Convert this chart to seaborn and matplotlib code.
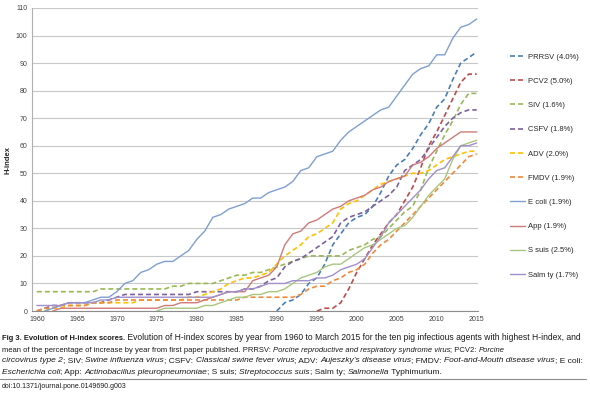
import numpy as np
import pandas as pd
import matplotlib
matplotlib.use('Agg')
import matplotlib.pyplot as plt
import seaborn as sns
from matplotlib.ticker import MultipleLocator
from matplotlib.transforms import IdentityTransform
from matplotlib.lines import Line2D

nan = np.nan
years = list(range(1960, 2016))

prrsv = [nan] * 30 + [0, 3, 4, 6, 10, 12, 17, 24, 28, 32, 34, 35, 38, 43, 49, 53, 55, 59, 64, 68,
                      74, 77, 84, 90, 92, 94]
pcv2 = [nan] * 35 + [0, 1, 1, 3, 8, 14, 19, 24, 28, 32, 35, 40, 45, 52, 60, 65, 71, 77, 83, 86, 86]
siv = [7] * 8 + [8] * 9 + [9, 9] + [10] * 4 + [11, 12, 13, 13, 14, 14, 15, 16, 17, 18, 19] + [20] * 5 + \
      [22, 23, 24, 26, 27, 30, 33, 36, 38, 44, 52, 58, 64, 69, 75, 79, 79]
csfv = [0, 1, 2, 2, 3, 3, 3, 3, 3, 4, 5] + [6] * 9 + [7] * 6 + [8, 8, 9, 11] + \
       [12, 16, 18, 19, 21, 23, 25, 27, 32, 34, 35, 36, 38, 40, 42, 45, 51, 53, 55, 59,
        63, 67, 70, 72, 73, 73]
adv = [0, 0, 1, 1, 2, 2, 2, 3, 3, 3, 3, 3, 3, 4, 4, 4, 4, 4, 4, 5,
       5, 6, 7, 8, 10, 11, 12, 12, 13, 14, 17, 20, 22, 24, 27, 28, 30, 32, 37, 39,
       40, 42, 44, 46, 47, 48, 49, 50, 50, 51, 53, 55, 56, 57, 58, 58]
fmdv = [0, 1, 1, 2, 2, 2, 2, 3, 3, 3] + [4] * 16 + [5] * 7 + \
       [6, 8, 9, 9, 11, 12, 14, 15, 17, 21, 24, 26, 29, 32, 35, 38, 41, 44, 47, 50, 53, 56, 57]
ecoli = [nan, 0, 1, 2, 3, 3, 3, 4, 5, 5, 7, 10, 11, 14, 15, 17, 18, 18, 20, 22,
         26, 29, 34, 35, 37, 38, 39, 41, 41, 43, 44, 45, 47, 51, 52, 56, 57, 58, 62, 65,
         67, 69, 71, 73, 74, 78, 82, 86, 88, 89, 93, 93, 99, 103, 104, 106]
app = [nan, nan, 0] + [1] * 13 + [2, 2, 3, 3, 3, 4, 5, 6, 7, 7, 7, 11, 12, 13,
       16, 24, 28, 29, 32, 33, 35, 37, 38, 40, 41, 42, 44, 45, 47, 48, 49, 53, 54, 56,
       59, 61, 63, 65, 65, 65]
ssuis = [nan] * 15 + [0, 1, 1, 1, 1, 1, 2, 2, 3, 4, 5, 5, 6, 6, 7,
         7, 8, 10, 12, 13, 14, 16, 17, 17, 19, 21, 23, 24, 26, 28, 30, 31, 34, 38, 42,
         45, 48, 55, 60, 61, 62]
salmty = [2] * 4 + [3] * 4 + [4, 4] + [5] * 13 + [6, 7, 7, 8, 8, 9, 10,
          10, 10, 11, 11, 11, 12, 12, 13, 15, 16, 17, 19, 23, 27, 32, 35, 38, 41, 44, 48,
          51, 52, 56, 60, 60, 61]

labels = ['PRRSV (4.0%)', 'PCV2 (5.0%)', 'SIV (1.6%)', 'CSFV (1.8%)', 'ADV (2.0%)',
          'FMDV (1.9%)', 'E coli (1.9%)', 'App (1.9%)', 'S suis (2.5%)', 'Salm ty (1.7%)']
values = [prrsv, pcv2, siv, csfv, adv, fmdv, ecoli, app, ssuis, salmty]
colors = ['#4A7EBB', '#BE4B48', '#98B954', '#7D60A0', '#FFC000',
          '#F0893C', '#7F9FD3', '#D07A78', '#A8C77C', '#9F90CB']
dashed = [True] * 6 + [False] * 4

sns.set_style('white')
plt.rcParams['font.family'] = ['Liberation Sans', 'DejaVu Sans']

fig = plt.figure(figsize=(5.9, 3.93), dpi=100)
ax = fig.add_axes([32 / 590, (393 - 311) / 393, 446 / 590, 303 / 393])

for lab, vals, col, d in zip(labels, values, colors, dashed):
    df = pd.DataFrame({'year': years, 'h': vals}).dropna()
    if d:
        sns.lineplot(data=df, x='year', y='h', color=col, lw=1.2,
                     linestyle=(0, (3, 1.8)), label=lab, ax=ax)
    else:
        sns.lineplot(data=df, x='year', y='h', color=col, lw=1.0, label=lab, ax=ax)

ax.set_xlim(1959.4, 2015.16)
ax.set_ylim(0, 110)
ax.xaxis.set_major_locator(MultipleLocator(5))
ax.xaxis.set_minor_locator(MultipleLocator(1))
ax.yaxis.set_major_locator(MultipleLocator(10))
ax.yaxis.grid(True, color='#C8C8C8', lw=0.8)
ax.set_axisbelow(True)
for s in ['top', 'right']:
    ax.spines[s].set_visible(False)
ax.spines['left'].set_color('#B0B0B0')
ax.spines['bottom'].set_color('#8C8C8C')
ax.spines['left'].set_linewidth(0.8)
ax.spines['bottom'].set_linewidth(0.8)
ax.tick_params(axis='x', which='both', direction='out', length=2.2, width=0.6,
               color='#8C8C8C', labelsize=5, labelcolor='#404040', pad=1.5)
ax.tick_params(axis='y', direction='out', length=2, width=0.6, color='#B0B0B0',
               labelsize=5, labelcolor='#404040', pad=1.5)
ax.set_xlabel('')
ax.set_ylabel('H-index', fontsize=5.5, fontweight='bold')
ax.yaxis.set_label_coords(-0.045, 0.5)

ax.legend(loc='center left', bbox_to_anchor=(510 / 590, 1 - 166 / 393),
          bbox_transform=fig.transFigure, frameon=False, fontsize=5.5,
          handlelength=2.0, handletextpad=0.3, labelspacing=2.21,
          borderpad=0, borderaxespad=0)

# caption drawn piece by piece so bold / italic parts can sit inline
caption = [
    [('Fig 3. Evolution of H-index scores.', 'b'),
     (' Evolution of H-index scores by year from 1960 to March 2015 for the ten pig infectious agents with highest H-index, and', 'n')],
    [('mean of the percentage of increase by year from first paper published. PRRSV: ', 'n'),
     ('Porcine reproductive and respiratory syndrome virus', 'i'), ('; PCV2: ', 'n'), ('Porcine', 'i')],
    [('circovirus type 2', 'i'), ('; SIV: ', 'n'), ('Swine influenza virus', 'i'), ('; CSFV: ', 'n'),
     ('Classical swine fever virus', 'i'), ('; ADV: ', 'n'), ('Aujeszky\u2019s disease virus', 'i'),
     ('; FMDV: ', 'n'), ('Foot-and-Mouth disease virus', 'i'), ('; E coli:', 'n')],
    [('Escherichia coli', 'i'), ('; App: ', 'n'), ('Actinobacillus pleuropneumoniae', 'i'),
     ('; S suis; ', 'n'), ('Streptococcus suis', 'i'), ('; Salm ty; ', 'n'),
     ('Salmonella', 'i'), (' Typhimurium.', 'n')],
]
baselines = [393 - 340.5, 393 - 351.5, 393 - 362.5, 393 - 373.5]
line_ends = [586, 506, 586, 446]   # right end of each caption line in the figure, px

renderer = fig.canvas.get_renderer()


def text_width(s, **kw):
    t1 = fig.text(0, 0, '|' + s + '|', transform=IdentityTransform(), **kw)
    t2 = fig.text(0, 0, '||', transform=IdentityTransform(), **kw)
    w = t1.get_window_extent(renderer).width - t2.get_window_extent(renderer).width
    t1.remove()
    t2.remove()
    return w


def style_kw(st, size):
    return dict(fontsize=size * (0.88 if st == 'b' else 1.0), color='#1A1A1A',
                fontweight='bold' if st == 'b' else 'normal',
                fontstyle='italic' if st == 'i' else 'normal')


for line, yb, xend in zip(caption, baselines, line_ends):
    natural = sum(text_width(s, **style_kw(st, 6.0)) for s, st in line)
    size = 6.0 * (xend - 2) / natural
    x = 2
    for s, st in line:
        kw = style_kw(st, size)
        fig.text(x, yb, s, transform=IdentityTransform(), va='baseline', ha='left', **kw)
        x += text_width(s, **kw)

fig.add_artist(Line2D([0, 586], [393 - 379, 393 - 379], color='#8A8A8A', lw=0.8,
                      transform=IdentityTransform()))
fig.text(2, 393 - 388.5, 'doi:10.1371/journal.pone.0149690.g003', transform=IdentityTransform(),
         fontsize=5, color='#1A1A1A', va='baseline', ha='left')

fig.savefig('out.png', dpi=100)
